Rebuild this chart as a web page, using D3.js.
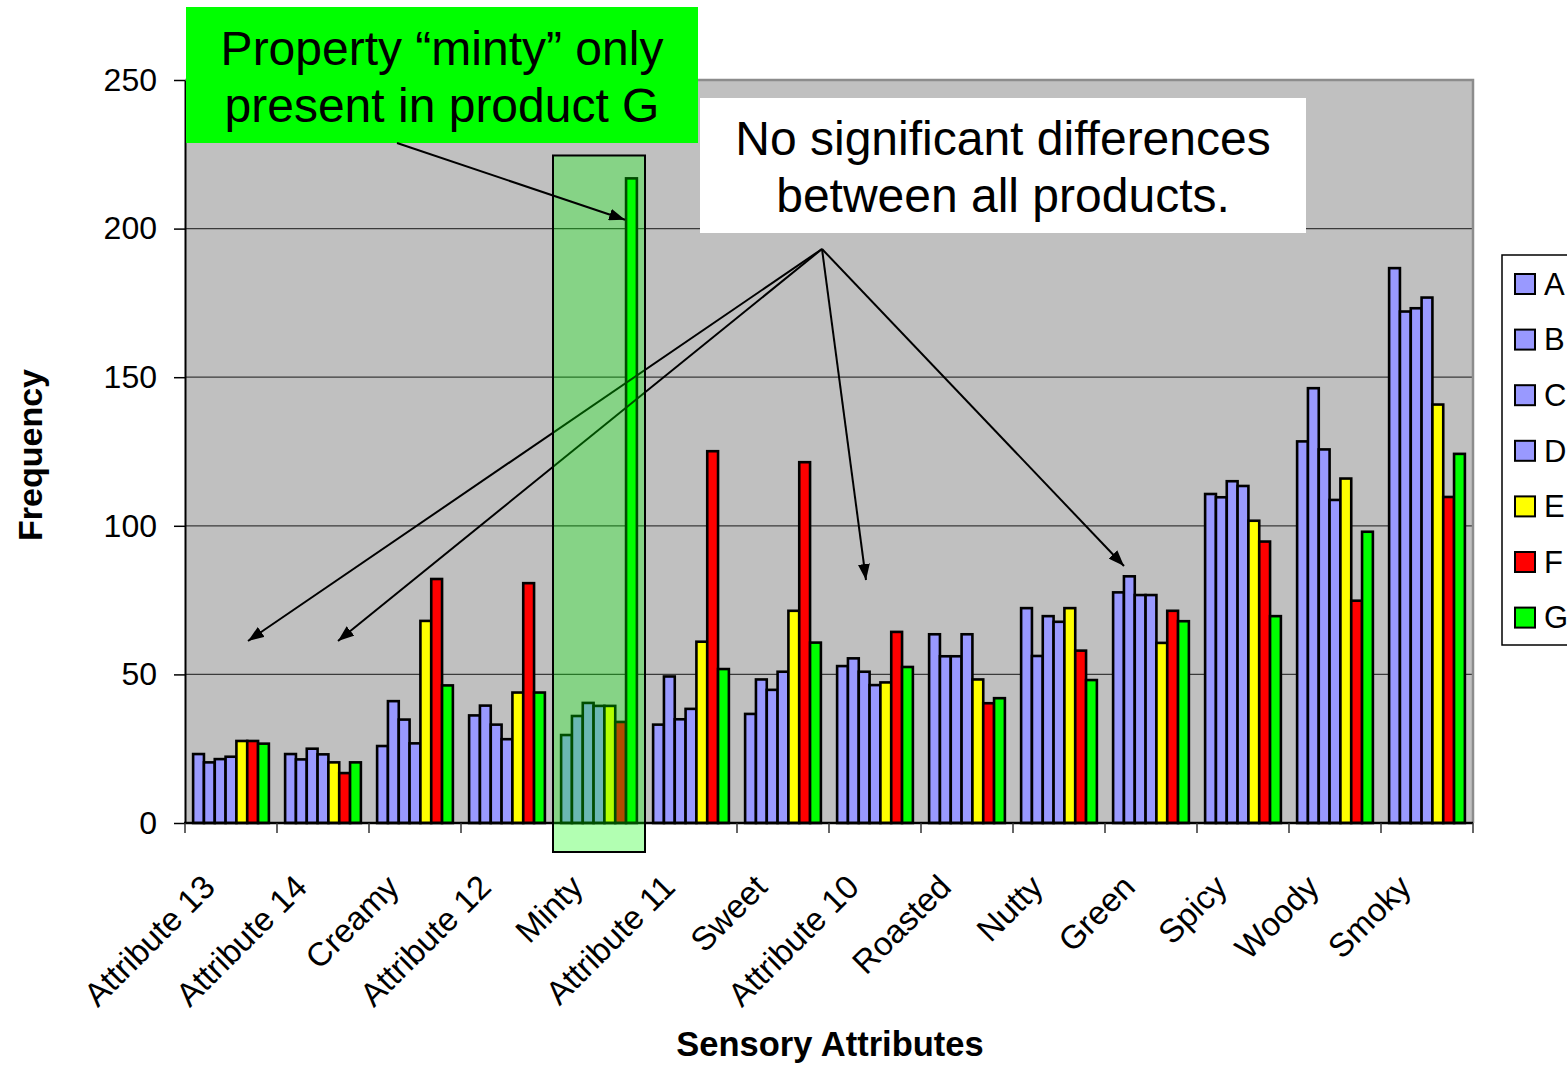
<!DOCTYPE html>
<html>
<head>
<meta charset="utf-8">
<script src="https://cdn.jsdelivr.net/npm/d3@7"></script>
<style>
  html, body { margin: 0; padding: 0; background: #ffffff; overflow: hidden; }
  svg { display: block; font-family: "Liberation Sans", Arial, sans-serif; }
</style>
</head>
<body>
<svg id="chart" width="1567" height="1065"></svg>
<script>
// Sensory attributes along the x axis
const categories = ["Attribute 13", "Attribute 14", "Creamy", "Attribute 12", "Minty",
  "Attribute 11", "Sweet", "Attribute 10", "Roasted", "Nutty", "Green", "Spicy", "Woody", "Smoky"];

// Products (one bar each per attribute)
const products = ["A", "B", "C", "D", "E", "F", "G"];
const productColors = ["#9999ff", "#9999ff", "#9999ff", "#9999ff", "#ffff00", "#ff0000", "#00ff00"];

// Frequency per product, one array per product, in category order
const seriesA = [23.2, 23.2, 25.9, 36.2, 29.6, 33.1, 36.7, 52.8, 63.5, 72.3, 77.6, 110.7, 128.4, 186.7];
const seriesB = [20.4, 21.4, 41.0, 39.5, 36.0, 49.3, 48.3, 55.4, 56.1, 56.2, 83.0, 109.6, 146.3, 172.1];
const seriesC = [21.5, 25.0, 34.8, 33.1, 40.4, 34.9, 44.8, 50.9, 56.1, 69.6, 76.7, 115.0, 125.7, 173.2];
const seriesD = [22.3, 23.1, 26.8, 28.2, 39.4, 38.4, 50.9, 46.4, 63.5, 67.7, 76.7, 113.4, 108.7, 176.8];
const seriesE = [27.6, 20.4, 68.0, 43.9, 39.4, 61.0, 71.4, 47.3, 48.3, 72.3, 60.6, 101.7, 115.9, 140.8];
const seriesF = [27.6, 16.8, 82.1, 80.7, 34.0, 125.1, 121.4, 64.3, 40.3, 58.0, 71.4, 94.7, 74.8, 109.7];
const seriesG = [26.7, 20.4, 46.3, 43.9, 216.9, 51.8, 60.7, 52.5, 42.0, 48.1, 67.9, 69.6, 98.0, 124.2];
const allSeries = [seriesA, seriesB, seriesC, seriesD, seriesE, seriesF, seriesG];

// Y axis ticks
const yTicks = [0, 50, 100, 150, 200, 250];

const svg = d3.select("#chart");
const FONT = "'Liberation Sans', Arial, sans-serif";

const plot = { left: 185, right: 1473, top: 80, bottom: 823 };

const x0 = d3.scaleBand()
  .domain(categories)
  .range([plot.left, plot.right])
  .paddingInner(1.5 / 8.5)
  .paddingOuter(0.75 / 8.5);

const x1 = d3.scaleBand()
  .domain(products)
  .range([0, x0.bandwidth()]);

const y = d3.scaleLinear().domain([0, 250]).range([plot.bottom, plot.top]);

// arrow heads
const defs = svg.append("defs");
defs.append("marker")
  .attr("id", "head")
  .attr("markerUnits", "userSpaceOnUse")
  .attr("viewBox", "0 0 16 12")
  .attr("refX", 16).attr("refY", 6)
  .attr("markerWidth", 16).attr("markerHeight", 12)
  .attr("orient", "auto")
  .append("path").attr("d", "M0,0 L16,6 L0,12 Z").attr("fill", "#000");

// plot background
svg.append("rect")
  .attr("x", plot.left).attr("y", plot.top)
  .attr("width", plot.right - plot.left).attr("height", plot.bottom - plot.top)
  .attr("fill", "#c0c0c0");

// horizontal gridlines
svg.append("g").selectAll("line")
  .data(yTicks.filter(t => t > 0 && t < 250))
  .join("line")
  .attr("x1", plot.left).attr("x2", plot.right)
  .attr("y1", d => y(d)).attr("y2", d => y(d))
  .attr("stroke", "#3a3a3a").attr("stroke-width", 1.3);

// plot frame (top and right)
svg.append("path")
  .attr("d", `M${plot.left},${y(250)} H${plot.right} V${plot.bottom}`)
  .attr("fill", "none").attr("stroke", "#8c8c8c").attr("stroke-width", 2.5);

// bars
const groups = svg.append("g").selectAll("g")
  .data(categories)
  .join("g")
  .attr("transform", d => `translate(${x0(d)},0)`);

groups.selectAll("rect")
  .data((c, ci) => products.map((p, pi) => ({ p, pi, v: allSeries[pi][ci] })))
  .join("rect")
  .attr("x", d => x1(d.p))
  .attr("width", x1.bandwidth())
  .attr("y", d => y(d.v))
  .attr("height", d => y(0) - y(d.v))
  .attr("fill", d => productColors[d.pi])
  .attr("stroke", "#000")
  .attr("stroke-width", 2.6);

// y axis
const yAxis = d3.axisLeft(y).tickValues(yTicks).tickSize(11).tickPadding(17).tickSizeOuter(0);
const gy = svg.append("g").attr("transform", `translate(${plot.left},0)`).call(yAxis);
gy.select(".domain").attr("stroke", "#000").attr("stroke-width", 2);
gy.selectAll(".tick line").attr("stroke", "#000").attr("stroke-width", 1.5);
gy.selectAll(".tick text").attr("font-family", FONT).attr("font-size", 32).attr("fill", "#000");

// x axis line and category separators
svg.append("line")
  .attr("x1", plot.left - 1).attr("x2", plot.right)
  .attr("y1", plot.bottom).attr("y2", plot.bottom)
  .attr("stroke", "#000").attr("stroke-width", 2.5);
const bounds = d3.range(categories.length + 1).map(i => plot.left + i * x0.step());
svg.append("g").selectAll("line")
  .data(bounds)
  .join("line")
  .attr("x1", d => d).attr("x2", d => d)
  .attr("y1", plot.bottom).attr("y2", plot.bottom + 10)
  .attr("stroke", "#333").attr("stroke-width", 1.5);

// category labels
svg.append("g").selectAll("text")
  .data(categories)
  .join("text")
  .attr("transform", d => `translate(${x0(d) + x0.bandwidth() / 2 - 14},889) rotate(-45)`)
  .attr("text-anchor", "end")
  .attr("font-family", FONT).attr("font-size", 33).attr("fill", "#000")
  .text(d => d);

// axis titles
svg.append("text")
  .attr("transform", "translate(42,455) rotate(-90)")
  .attr("text-anchor", "middle")
  .attr("font-family", FONT).attr("font-weight", "bold").attr("font-size", 34)
  .text("Frequency");

svg.append("text")
  .attr("x", 830).attr("y", 1056)
  .attr("text-anchor", "middle")
  .attr("font-family", FONT).attr("font-weight", "bold").attr("font-size", 34.5)
  .text("Sensory Attributes");

// arrows pointing out attributes with no differences
const hub = [822, 249];
const noDiffTargets = [[248, 641], [338, 641], [866, 580], [1124, 566]];
svg.append("g").selectAll("line")
  .data(noDiffTargets)
  .join("line")
  .attr("x1", hub[0]).attr("y1", hub[1])
  .attr("x2", d => d[0]).attr("y2", d => d[1])
  .attr("stroke", "#000").attr("stroke-width", 2)
  .attr("marker-end", "url(#head)");

// translucent highlight over the Minty group
const mintyX = x0("Minty") - x0.step() * x0.paddingInner() / 2;
svg.append("rect")
  .attr("x", mintyX).attr("y", y(224.6))
  .attr("width", x0.step()).attr("height", 852 - y(224.6))
  .attr("fill", "rgba(0,255,0,0.3)")
  .attr("stroke", "#000").attr("stroke-width", 2);

// white note box
svg.append("rect")
  .attr("x", 700).attr("y", 98).attr("width", 606).attr("height", 135)
  .attr("fill", "#ffffff");
const note2 = svg.append("text")
  .attr("text-anchor", "middle")
  .attr("font-family", FONT).attr("font-size", 48).attr("fill", "#000");
note2.append("tspan").attr("x", 1003).attr("y", 155).text("No significant differences");
note2.append("tspan").attr("x", 1003).attr("y", 212).text("between all products.");

// green note box
svg.append("rect")
  .attr("x", 186).attr("y", 7).attr("width", 512).attr("height", 136)
  .attr("fill", "#00ff00");
const note1 = svg.append("text")
  .attr("text-anchor", "middle")
  .attr("font-family", FONT).attr("font-size", 48).attr("fill", "#000");
note1.append("tspan").attr("x", 442).attr("y", 65).text("Property \u201cminty\u201d only");
note1.append("tspan").attr("x", 442).attr("y", 122).text("present in product G");

// arrow from green note to the Minty G bar
svg.append("line")
  .attr("x1", 397).attr("y1", 143)
  .attr("x2", x0("Minty") + x1("G") - 1).attr("y2", y(203))
  .attr("stroke", "#000").attr("stroke-width", 2)
  .attr("marker-end", "url(#head)");

// legend
const legend = svg.append("g");
legend.append("rect")
  .attr("x", 1502).attr("y", 255).attr("width", 120).attr("height", 390)
  .attr("fill", "#ffffff").attr("stroke", "#000").attr("stroke-width", 1.5);
const items = legend.selectAll("g.item")
  .data(products)
  .join("g").attr("class", "item")
  .attr("transform", (d, i) => `translate(1515,${284 + i * 55.6})`);
items.append("rect")
  .attr("x", 0).attr("y", -10).attr("width", 20).attr("height", 20)
  .attr("fill", (d, i) => productColors[i])
  .attr("stroke", "#000").attr("stroke-width", 2);
items.append("text")
  .attr("x", 29).attr("y", 0).attr("dy", "0.35em")
  .attr("font-family", FONT).attr("font-size", 31).attr("fill", "#000")
  .text(d => d);
</script>
</body>
</html>
